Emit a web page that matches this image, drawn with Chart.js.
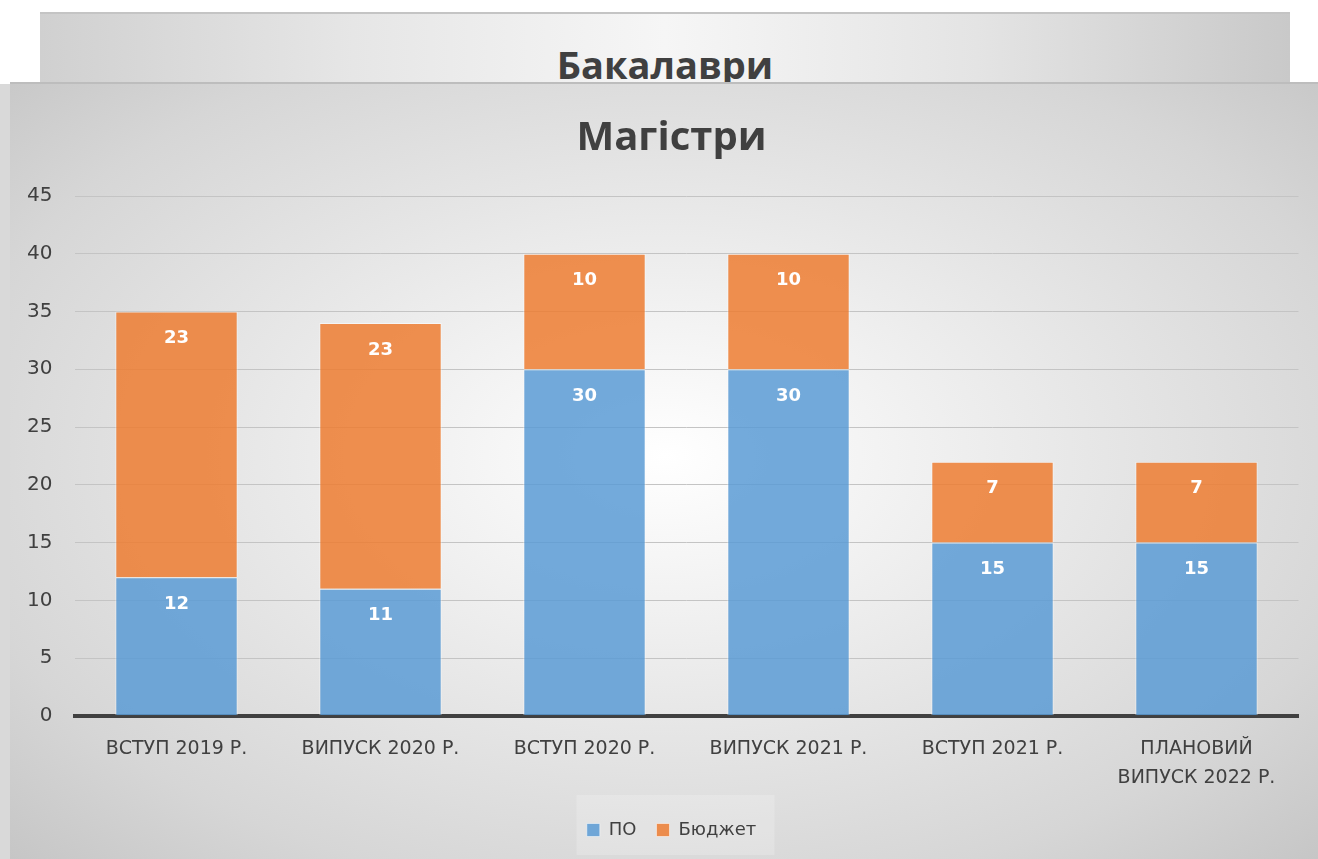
<!DOCTYPE html>
<html>
<head>
<meta charset="utf-8">
<script src="https://cdn.jsdelivr.net/npm/chart.js@4.4.0/dist/chart.umd.min.js"></script>
<style>
  html, body { margin: 0; padding: 0; background: #fff; width: 1318px; height: 859px; overflow: hidden; }
  #edge { position: absolute; left: 0; top: 84px; width: 10px; height: 775px; background: #d9d9d9; }
  #back {
    position: absolute; left: 40px; top: 12px; width: 1250px; height: 90px;
    border-top: 2px solid #c4c4c4;
    background: linear-gradient(to right, #d0d0d0 0%, #e6e6e6 25%, #f6f6f6 50%, #e4e4e4 75%, #c9c9c9 100%);
  }
  #back div {
    position: absolute; left: 0; right: 0; top: 24px; text-align: center;
    font: bold 38px "Open Sans", "Noto Sans", sans-serif; color: #404040;
  }
  #front {
    position: absolute; left: 10px; top: 82px; width: 1308px; height: 775px;
    border-top: 2px solid #bdbdbd;
    background: radial-gradient(ellipse farthest-corner at 50% 48%, #ffffff 0%, #f2f2f2 25%, #d6d6d6 78%, #c6c6c6 100%);
  }
  #front canvas { display: block; }
</style>
</head>
<body>
<div id="edge"></div>
<div id="back"><div>Бакалаври</div></div>
<div id="front"><canvas id="chart" width="1308" height="775"></canvas></div>
<script>
const categories = [
  "ВСТУП 2019 Р.",
  "ВИПУСК 2020 Р.",
  "ВСТУП 2020 Р.",
  "ВИПУСК 2021 Р.",
  "ВСТУП 2021 Р.",
  ["ПЛАНОВИЙ", "ВИПУСК 2022 Р."]
];
const poValues = [12, 11, 30, 30, 15, 15];
const budgetValues = [23, 23, 10, 10, 7, 7];
const yTicks = [0, 5, 10, 15, 20, 25, 30, 35, 40, 45];

const titleFont = '"Open Sans", "Noto Sans", sans-serif';
const font = '"DejaVu Sans", sans-serif';

// labels inside the top of each segment, white and bold
const barLabels = {
  id: "barLabels",
  afterDatasetsDraw(chart) {
    const ctx = chart.ctx;
    ctx.save();
    ctx.font = "bold 18px " + font;
    ctx.fillStyle = "#ffffff";
    ctx.textAlign = "center";
    ctx.textBaseline = "middle";
    chart.data.datasets.forEach((ds, i) => {
      chart.getDatasetMeta(i).data.forEach((bar, j) => {
        if (!ds.data[j]) return;
        ctx.fillText(ds.data[j], bar.x, bar.y + 27);
      });
    });
    ctx.restore();
  }
};

// faint box behind the legend
const legendBox = {
  id: "legendBox",
  beforeDraw(chart) {
    const l = chart.legend;
    if (!l) return;
    const ctx = chart.ctx;
    ctx.save();
    ctx.fillStyle = "rgba(255,255,255,0.2)";
    ctx.fillRect(l.left + l.width / 2 - 99 + 4, l.top - 6, 198, l.height + 12);
    ctx.restore();
  }
};

new Chart(document.getElementById("chart").getContext("2d"), {
  type: "bar",
  data: {
    labels: categories,
    datasets: [
      {
        label: "ПО",
        data: poValues,
        backgroundColor: "rgba(91,155,213,0.85)",
        borderColor: "rgba(255,255,255,0.5)",
        borderWidth: 1
      },
      {
        label: "Бюджет",
        data: budgetValues,
        backgroundColor: "rgba(237,125,49,0.85)",
        borderColor: "rgba(255,255,255,0.5)",
        borderWidth: 1
      }
    ]
  },
  options: {
    responsive: false,
    animation: false,
    layout: { padding: { left: 15, right: 0, top: 6, bottom: 10 } },
    datasets: { bar: { categoryPercentage: 1, barPercentage: 0.6 } },
    scales: {
      x: {
        stacked: true,
        grid: { display: false },
        border: { color: "#404040", width: 4 },
        afterFit(axis) { axis.height -= 3; },
        ticks: { color: "#404040", font: { family: font, size: 19, lineHeight: 1.53 }, maxRotation: 0, padding: 11 }
      },
      y: {
        stacked: true,
        min: 0,
        max: 45,
        afterBuildTicks(axis) { axis.ticks = yTicks.map(v => ({ value: v })); },
        afterFit(axis) { axis.width = 49.5; },
        grid: { color: "#c4c4c4", lineWidth: 1, drawTicks: false },
        border: { display: false },
        ticks: { color: "#404040", font: { family: font, size: 20 }, padding: 22 }
      },
      // empty right margin so the title and legend sit where they do in the original
      y2: {
        position: "right",
        grid: { display: false },
        border: { display: false },
        ticks: { display: false },
        afterFit(axis) { axis.width = 19.5; }
      }
    },
    plugins: {
      title: {
        display: true,
        text: "Магістри",
        color: "#404040",
        font: { family: titleFont, size: 40, weight: "bold" },
        padding: { top: 25, bottom: 33 }
      },
      legend: {
        position: "bottom",
        labels: {
          color: "#404040",
          font: { family: font, size: 18 },
          boxWidth: 13,
          boxHeight: 13,
          padding: 20
        }
      },
      tooltip: { enabled: false }
    }
  },
  plugins: [barLabels, legendBox]
});
</script>
</body>
</html>
